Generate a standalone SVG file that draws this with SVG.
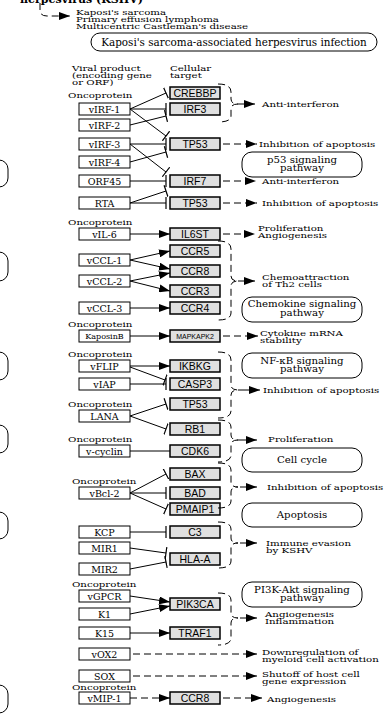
<svg xmlns="http://www.w3.org/2000/svg" width="386" height="715" viewBox="0 0 386 715">
<style>
text{font-family:"DejaVu Serif","Liberation Serif",serif;fill:#000}
.lb{font-size:8px}
.vt{font-size:9.5px;text-anchor:middle}
.tt{font-family:"Liberation Sans",Arial,sans-serif;font-size:10.5px;text-anchor:middle}
.pt{font-size:8.5px;text-anchor:middle}
.v rect{fill:#fff;stroke:#000;stroke-width:1}
.t rect{fill:#e0e0e0;stroke:#000;stroke-width:1.5}
.p rect{fill:#fff;stroke:#000;stroke-width:1}
.c path,.c line{fill:none;stroke:#000;stroke-width:1}
.c .d{stroke-dasharray:7,4}
.c .a{marker-end:url(#ah)}
.c .i{marker-end:url(#bar)}
</style>
<defs>
<marker id="ah" viewBox="0 0 11 8" refX="11" refY="4" markerWidth="11" markerHeight="8" markerUnits="userSpaceOnUse" orient="auto"><path d="M0,0 L11,4 L0,8 z" fill="#000"/></marker>
<marker id="bar" viewBox="0 0 2 12" refX="1" refY="6" markerWidth="2" markerHeight="12" markerUnits="userSpaceOnUse" orient="auto"><path d="M1,0 V12" stroke="#000" stroke-width="1.2"/></marker>
</defs>
<rect width="386" height="715" fill="#fff"/>

<g id="header">
<text x="20" y="3" style="font-size:11px;font-weight:bold">herpesvirus (KSHV)</text>
<g transform="scale(1.28,1)">
<text class="lb" x="59.38" y="15">Kaposi's sarcoma</text>
<text class="lb" x="59.38" y="22">Primary effusion lymphoma</text>
<text class="lb" x="59.38" y="29">Multicentric Castleman's disease</text>
<text class="lb" x="56.25" y="71">Viral product</text>
<text class="lb" x="56.25" y="78">(encoding gene</text>
<text class="lb" x="56.25" y="85">or ORF)</text>
<text class="lb" x="132.81" y="71">Cellular</text>
<text class="lb" x="132.81" y="78">target</text>
</g>
</g>

<g id="left-edge" class="p">
<rect x="-60" y="160" width="68" height="27" rx="9"/>
<rect x="-60" y="252" width="68" height="29" rx="9"/>
<rect x="-60" y="352" width="68" height="28" rx="9"/>
<rect x="-60" y="425" width="68" height="28" rx="9"/>
<rect x="-60" y="512" width="68" height="27" rx="9"/>
<rect x="-60" y="685" width="68" height="28" rx="9"/>
</g>

<g id="infection" class="p"><rect x="91" y="33" width="286" height="18" rx="9"/><text x="234" y="46" style="font-size:10.4px;text-anchor:middle">Kaposi's sarcoma-associated herpesvirus infection</text></g>

<g id="oncoprotein-labels" transform="scale(1.28,1)">
<text class="lb" x="53.13" y="98">Oncoprotein</text>
<text class="lb" x="53.13" y="225">Oncoprotein</text>
<text class="lb" x="53.13" y="327">Oncoprotein</text>
<text class="lb" x="53.13" y="357">Oncoprotein</text>
<text class="lb" x="53.13" y="407">Oncoprotein</text>
<text class="lb" x="53.13" y="442">Oncoprotein</text>
<text class="lb" x="56.25" y="484">Oncoprotein</text>
<text class="lb" x="56.25" y="587">Oncoprotein</text>
<text class="lb" x="56.25" y="690">Oncoprotein</text>
</g>

<g id="viral" class="v">
<g id="vIRF-1"><rect x="79" y="103" width="51" height="12"/><text class="vt" x="104.5" y="112.5">vIRF-1</text></g>
<g id="vIRF-2"><rect x="79" y="119" width="51" height="12"/><text class="vt" x="104.5" y="128.5">vIRF-2</text></g>
<g id="vIRF-3"><rect x="79" y="138" width="51" height="12"/><text class="vt" x="104.5" y="147.5">vIRF-3</text></g>
<g id="vIRF-4"><rect x="79" y="156" width="51" height="12"/><text class="vt" x="104.5" y="165.5">vIRF-4</text></g>
<g id="ORF45"><rect x="79" y="175" width="51" height="12"/><text class="vt" x="104.5" y="184.5">ORF45</text></g>
<g id="RTA"><rect x="79" y="197" width="51" height="12"/><text class="vt" x="104.5" y="206.5">RTA</text></g>
<g id="vIL-6"><rect x="79" y="228" width="51" height="12"/><text class="vt" x="104.5" y="237.5">vIL-6</text></g>
<g id="vCCL-1"><rect x="79" y="254" width="51" height="12"/><text class="vt" x="104.5" y="263.5">vCCL-1</text></g>
<g id="vCCL-2"><rect x="79" y="275" width="51" height="12"/><text class="vt" x="104.5" y="284.5">vCCL-2</text></g>
<g id="vCCL-3"><rect x="79" y="302" width="51" height="12"/><text class="vt" x="104.5" y="311.5">vCCL-3</text></g>
<g id="KaposinB"><rect x="79" y="330" width="51" height="12"/><text class="vt" x="104.5" y="339" style="font-size:8px">KaposinB</text></g>
<g id="vFLIP"><rect x="79" y="360" width="51" height="12"/><text class="vt" x="104.5" y="369.5">vFLIP</text></g>
<g id="vIAP"><rect x="79" y="378" width="51" height="12"/><text class="vt" x="104.5" y="387.5">vIAP</text></g>
<g id="LANA"><rect x="79" y="410" width="51" height="12"/><text class="vt" x="104.5" y="419.5">LANA</text></g>
<g id="v-cyclin"><rect x="79" y="445" width="51" height="12"/><text class="vt" x="104.5" y="454.5">v-cyclin</text></g>
<g id="vBcl-2"><rect x="79" y="487" width="51" height="12"/><text class="vt" x="104.5" y="496.5">vBcl-2</text></g>
<g id="KCP"><rect x="79" y="526" width="51" height="12"/><text class="vt" x="104.5" y="535.5">KCP</text></g>
<g id="MIR1"><rect x="79" y="542" width="51" height="12"/><text class="vt" x="104.5" y="551.5">MIR1</text></g>
<g id="MIR2"><rect x="79" y="563" width="51" height="12"/><text class="vt" x="104.5" y="572.5">MIR2</text></g>
<g id="vGPCR"><rect x="79" y="590" width="51" height="12"/><text class="vt" x="104.5" y="599.5">vGPCR</text></g>
<g id="K1"><rect x="79" y="608" width="51" height="12"/><text class="vt" x="104.5" y="617.5">K1</text></g>
<g id="K15"><rect x="79" y="627" width="51" height="12"/><text class="vt" x="104.5" y="636.5">K15</text></g>
<g id="vOX2"><rect x="79" y="648" width="51" height="12"/><text class="vt" x="104.5" y="657.5">vOX2</text></g>
<g id="SOX"><rect x="79" y="670" width="51" height="12"/><text class="vt" x="104.5" y="679.5">SOX</text></g>
<g id="vMIP-1"><rect x="79" y="692" width="51" height="12"/><text class="vt" x="104.5" y="701.5">vMIP-1</text></g>
</g>

<g id="targets" class="t">
<g id="CREBBP"><rect x="170" y="87" width="50" height="12"/><text class="tt" x="195" y="97">CREBBP</text></g>
<g id="IRF3"><rect x="170" y="103" width="50" height="12"/><text class="tt" x="195" y="113">IRF3</text></g>
<g id="TP53a"><rect x="170" y="138" width="50" height="12"/><text class="tt" x="195" y="148">TP53</text></g>
<g id="IRF7"><rect x="170" y="175" width="50" height="12"/><text class="tt" x="195" y="185">IRF7</text></g>
<g id="TP53b"><rect x="170" y="197" width="50" height="12"/><text class="tt" x="195" y="207">TP53</text></g>
<g id="IL6ST"><rect x="170" y="228" width="50" height="12"/><text class="tt" x="195" y="238">IL6ST</text></g>
<g id="CCR5"><rect x="170" y="245" width="50" height="12"/><text class="tt" x="195" y="255">CCR5</text></g>
<g id="CCR8a"><rect x="170" y="265" width="50" height="12"/><text class="tt" x="195" y="275">CCR8</text></g>
<g id="CCR3"><rect x="170" y="285" width="50" height="12"/><text class="tt" x="195" y="295">CCR3</text></g>
<g id="CCR4"><rect x="170" y="302" width="50" height="12"/><text class="tt" x="195" y="312">CCR4</text></g>
<g id="MAPKAPK2"><rect x="170" y="330" width="50" height="12"/><text class="tt" x="195" y="339" style="font-size:7px">MAPKAPK2</text></g>
<g id="IKBKG"><rect x="170" y="360" width="50" height="12"/><text class="tt" x="195" y="370">IKBKG</text></g>
<g id="CASP3"><rect x="170" y="378" width="50" height="12"/><text class="tt" x="195" y="388">CASP3</text></g>
<g id="TP53c"><rect x="170" y="398" width="50" height="12"/><text class="tt" x="195" y="408">TP53</text></g>
<g id="RB1"><rect x="170" y="423" width="50" height="12"/><text class="tt" x="195" y="433">RB1</text></g>
<g id="CDK6"><rect x="170" y="445" width="50" height="12"/><text class="tt" x="195" y="455">CDK6</text></g>
<g id="BAX"><rect x="170" y="468" width="50" height="12"/><text class="tt" x="195" y="478">BAX</text></g>
<g id="BAD"><rect x="170" y="487" width="50" height="12"/><text class="tt" x="195" y="497">BAD</text></g>
<g id="PMAIP1"><rect x="170" y="503" width="50" height="12"/><text class="tt" x="195" y="513">PMAIP1</text></g>
<g id="C3"><rect x="170" y="526" width="50" height="12"/><text class="tt" x="195" y="536">C3</text></g>
<g id="HLA-A"><rect x="170" y="553" width="50" height="12"/><text class="tt" x="195" y="563">HLA-A</text></g>
<g id="PIK3CA"><rect x="170" y="598" width="50" height="12"/><text class="tt" x="195" y="608">PIK3CA</text></g>
<g id="TRAF1"><rect x="170" y="627" width="50" height="12"/><text class="tt" x="195" y="637">TRAF1</text></g>
<g id="CCR8b"><rect x="170" y="692" width="50" height="12"/><text class="tt" x="195" y="702">CCR8</text></g>
</g>

<g id="pathways" class="p">
<g id="p53-pathway"><rect x="242" y="152" width="120" height="25" rx="10"/><text class="pt" transform="scale(1.2,1)" x="251.67" y="163">p53 signaling</text><text class="pt" transform="scale(1.2,1)" x="251.67" y="171">pathway</text></g>
<g id="chemokine-pathway"><rect x="242" y="297" width="120" height="25" rx="10"/><text class="pt" transform="scale(1.2,1)" x="251.67" y="307">Chemokine signaling</text><text class="pt" transform="scale(1.2,1)" x="251.67" y="316">pathway</text></g>
<g id="nfkb-pathway"><rect x="242" y="353" width="120" height="25" rx="10"/><text class="pt" transform="scale(1.2,1)" x="251.67" y="364">NF-κB signaling</text><text class="pt" transform="scale(1.2,1)" x="251.67" y="372">pathway</text></g>
<g id="cellcycle-pathway"><rect x="242" y="448" width="120" height="24" rx="10"/><text class="pt" transform="scale(1.2,1)" x="251.67" y="463">Cell cycle</text></g>
<g id="apoptosis-pathway"><rect x="242" y="503" width="120" height="24" rx="10"/><text class="pt" transform="scale(1.2,1)" x="251.67" y="518">Apoptosis</text></g>
<g id="pi3k-pathway"><rect x="242" y="582" width="120" height="25" rx="10"/><text class="pt" transform="scale(1.2,1)" x="251.67" y="593">PI3K-Akt signaling</text><text class="pt" transform="scale(1.2,1)" x="251.67" y="601">pathway</text></g>
</g>

<g id="outcomes" transform="scale(1.28,1)">
<text class="lb" x="204.69" y="107">Anti-interferon</text>
<text class="lb" x="202.34" y="147">Inhibition of apoptosis</text>
<text class="lb" x="204.69" y="184">Anti-interferon</text>
<text class="lb" x="204.69" y="206">Inhibition of apoptosis</text>
<text class="lb" x="201.56" y="231">Proliferation</text>
<text class="lb" x="201.56" y="238">Angiogenesis</text>
<text class="lb" x="204.69" y="280">Chemoattraction</text>
<text class="lb" x="204.69" y="287">of Th2 cells</text>
<text class="lb" x="203.13" y="336">Cytokine mRNA</text>
<text class="lb" x="203.13" y="343">stability</text>
<text class="lb" x="205.47" y="393">Inhibition of apoptosis</text>
<text class="lb" x="209.38" y="442">Proliferation</text>
<text class="lb" x="208.59" y="490">Inhibition of apoptosis</text>
<text class="lb" x="207.81" y="546">Immune evasion</text>
<text class="lb" x="207.81" y="553">by KSHV</text>
<text class="lb" x="207.03" y="617">Angiogenesis</text>
<text class="lb" x="207.03" y="624">Inflammation</text>
<text class="lb" x="204.69" y="655">Downregulation of</text>
<text class="lb" x="204.69" y="662">myeloid cell activation</text>
<text class="lb" x="204.69" y="677">Shutoff of host cell</text>
<text class="lb" x="204.69" y="684">gene expression</text>
<text class="lb" x="208.59" y="702">Angiogenesis</text>
</g>

<g id="connectors" class="c">
<path class="d a" d="M40,3 V10 Q40,16 47,16 H70"/>
<line class="i" x1="130" y1="109" x2="166" y2="93"/>
<line class="i" x1="130" y1="109" x2="166" y2="109"/>
<line class="i" x1="130" y1="109" x2="166" y2="136"/>
<line class="i" x1="130" y1="125" x2="166" y2="116"/>
<line class="i" x1="130" y1="144" x2="166" y2="144"/>
<line class="i" x1="130" y1="144" x2="166" y2="172"/>
<line class="i" x1="130" y1="162" x2="166" y2="152"/>
<line class="i" x1="130" y1="181" x2="166" y2="181"/>
<line class="i" x1="130" y1="203" x2="166" y2="191"/>
<line class="i" x1="130" y1="203" x2="166" y2="203"/>
<line class="a" x1="130" y1="234" x2="170" y2="234"/>
<line class="a" x1="130" y1="260" x2="170" y2="251"/>
<line class="a" x1="130" y1="260" x2="170" y2="269"/>
<line class="a" x1="130" y1="281" x2="170" y2="273"/>
<line class="a" x1="130" y1="281" x2="170" y2="291"/>
<line class="a" x1="130" y1="308" x2="170" y2="308"/>
<line class="a" x1="130" y1="336" x2="170" y2="336"/>
<line class="a" x1="130" y1="366" x2="170" y2="366"/>
<line class="i" x1="130" y1="367" x2="165" y2="380"/>
<line class="i" x1="130" y1="384" x2="166" y2="384"/>
<line class="i" x1="130" y1="416" x2="166" y2="404"/>
<line class="i" x1="130" y1="416" x2="166" y2="429"/>
<line x1="130" y1="451" x2="170" y2="451"/>
<line class="i" x1="130" y1="493" x2="166" y2="474"/>
<line class="i" x1="130" y1="493" x2="166" y2="493"/>
<line class="i" x1="130" y1="493" x2="166" y2="509"/>
<line class="i" x1="130" y1="532" x2="166" y2="532"/>
<line class="i" x1="130" y1="548" x2="166" y2="553"/>
<line class="i" x1="130" y1="569" x2="166" y2="562"/>
<line class="a" x1="130" y1="596" x2="170" y2="602"/>
<line class="a" x1="130" y1="614" x2="170" y2="606"/>
<line class="a" x1="130" y1="633" x2="170" y2="633"/>
<line class="d a" x1="130" y1="698" x2="170" y2="698"/>
<line class="d a" x1="223" y1="144" x2="257" y2="144"/>
<line class="d a" x1="223" y1="181" x2="256" y2="181"/>
<line class="d a" x1="223" y1="203" x2="257" y2="203"/>
<line class="d a" x1="223" y1="234" x2="255" y2="234"/>
<line class="d a" x1="223" y1="336" x2="258" y2="336"/>
<line class="d a" x1="223" y1="698" x2="262" y2="698"/>
<line class="d a" x1="133" y1="654" x2="257" y2="654"/>
<line class="d a" x1="133" y1="676" x2="257" y2="676"/>
<path class="d" d="M218,84 Q231,84 231,92 V99 Q231,104 238,104 Q231,104 231,109 V116 Q231,122 218,122"/>
<line class="a" x1="238" y1="104" x2="255" y2="104"/>
<path class="d" d="M218,241 Q231,241 231,249 V276 Q231,281 238,281 Q231,281 231,286 V313 Q231,320 218,320"/>
<line class="a" x1="238" y1="281" x2="255" y2="281"/>
<path class="d" d="M218,352 Q231,352 231,360 V385 Q231,390 238,390 Q231,390 231,395 V411 Q231,418 218,418"/>
<line class="a" x1="238" y1="390" x2="260" y2="390"/>
<path class="d" d="M218,420 Q231,420 231,427 V435 Q231,440 238,440 Q231,440 231,445 V455 Q231,462 218,462"/>
<line class="a" x1="238" y1="440" x2="257" y2="440"/>
<path class="d" d="M218,463 Q231,463 231,470 V482 Q231,487 238,487 Q231,487 231,492 V501 Q231,508 218,508"/>
<line class="a" x1="240" y1="487" x2="257" y2="487"/>
<path class="d" d="M218,522 Q231,522 231,529 V538 Q231,543 238,543 Q231,543 231,548 V561 Q231,568 218,568"/>
<line class="a" x1="240" y1="543" x2="257" y2="543"/>
<path class="d" d="M218,593 Q231,593 231,600 V613 Q231,618 238,618 Q231,618 231,623 V638 Q231,645 218,645"/>
<line class="a" x1="240" y1="618" x2="257" y2="618"/>
</g>
</svg>
